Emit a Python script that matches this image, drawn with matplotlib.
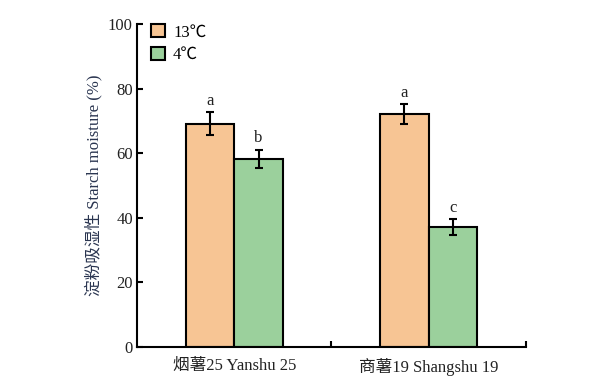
import matplotlib.pyplot as plt
import numpy as np
from matplotlib.patches import Patch

plt.rcParams['font.family'] = ['Liberation Serif', 'Noto Sans CJK SC']
plt.rcParams['font.size'] = 12

# data
groups = ['烟薯25 Yanshu 25', '商薯19 Shangshu 19']
temps = ['13℃', '4℃']
warm = [69.2, 72.2]
warm_err = [3.6, 3.1]
cold = [58.2, 37.2]
cold_err = [2.9, 2.5]
warm_sig = ['a', 'a']
cold_sig = ['b', 'c']

colors = ['#F7C594', '#9BD09C']

fig = plt.figure(figsize=(5.89, 3.88), dpi=100)
ax = fig.add_axes([0.2326, 0.1057, 0.6604, 0.8323])

x = np.arange(len(groups)) + 0.5
w = 0.25
ekw = dict(ecolor='black', elinewidth=1.5, capsize=3, capthick=1.5)
ax.bar(x - w / 2, warm, w, yerr=warm_err, color=colors[0], edgecolor='black',
       linewidth=1.5, error_kw=ekw, zorder=2)
ax.bar(x + w / 2, cold, w, yerr=cold_err, color=colors[1], edgecolor='black',
       linewidth=1.5, error_kw=ekw, zorder=2)

for xi, v, e, s in zip(x - w / 2, warm, warm_err, warm_sig):
    ax.text(xi, v + e + 1.0, s, ha='center', va='bottom', fontsize=12, color='#222222')
for xi, v, e, s in zip(x + w / 2, cold, cold_err, cold_sig):
    ax.text(xi, v + e + 1.0, s, ha='center', va='bottom', fontsize=12, color='#222222')

ax.set_xlim(0, 2)
ax.set_ylim(0, 100)
ax.set_yticks([0, 20, 40, 60, 80, 100])
ax.set_xticks([1, 2])
ax.set_xticklabels([])
ax.set_xticks(x, minor=True)
ax.set_xticklabels(groups, minor=True)
ax.tick_params(axis='x', which='minor', length=0, pad=8)
ax.tick_params(axis='x', which='major', direction='in', length=4.5, width=1.5)
ax.tick_params(axis='y', direction='in', length=4.5, width=1.5, pad=3)
for lbl in ax.get_xticklabels(minor=True) + ax.get_yticklabels():
    lbl.set_color('#222222')

for side in ['top', 'right']:
    ax.spines[side].set_visible(False)
for side in ['left', 'bottom']:
    ax.spines[side].set_linewidth(1.5)

ax.set_ylabel('淀粉吸湿性 Starch moisture (%)', color='#2a3550', labelpad=4)

handles = [Patch(facecolor=c, edgecolor='black', linewidth=1.5) for c in colors]
ax.legend(handles, temps, loc='upper left', bbox_to_anchor=(0.02, 1.02),
          frameon=False, handlelength=0.8, handleheight=0.8, handletextpad=0.5,
          labelspacing=0.4, fontsize=12, borderaxespad=0)

fig.savefig('out.png', dpi=100)
